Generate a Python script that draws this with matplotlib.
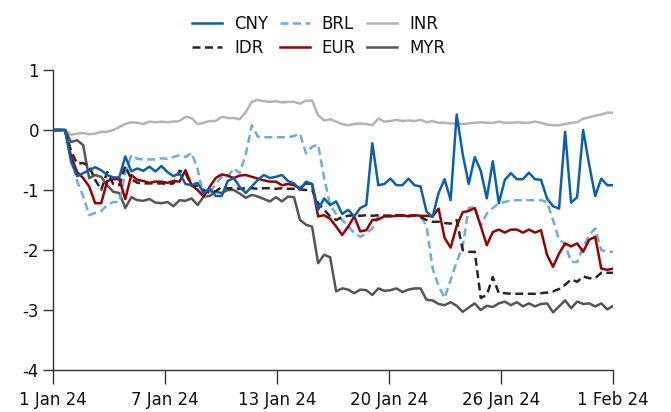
import numpy as np
import pandas as pd
import matplotlib
matplotlib.use("Agg")
import matplotlib.pyplot as plt

plt.rcParams['font.family'] = ['DejaVu Sans']
plt.rcParams['font.size'] = 12
plt.rcParams['axes.unicode_minus'] = False

# 8-hourly observations, 1 Jan 24 to 1 Feb 24
dates = pd.date_range('2024-01-01', '2024-02-01', freq='8h')
tick_labels = ['1 Jan 24', '7 Jan 24', '13 Jan 24', '20 Jan 24', '26 Jan 24', '1 Feb 24']

cny = [0, 0, 0, -0.53, -0.77, -0.72, -0.67, -0.62, -0.67, -0.75,
       -0.79, -0.79, -0.44, -0.69, -0.64, -0.68, -0.61, -0.69, -0.6, -0.7,
       -0.77, -0.72, -0.9, -0.92, -0.88, -1.05, -0.98, -1.1, -1.1, -0.85,
       -0.8, -0.95, -1.05, -0.94, -0.83, -0.75, -0.8, -0.78, -0.75, -0.85,
       -0.89, -1.0, -0.86, -0.9, -1.33, -1.14, -1.25, -1.19, -1.4, -1.33,
       -1.44, -1.3, -1.25, -0.22, -0.92, -0.9, -0.81, -0.92, -0.92, -0.81,
       -0.92, -0.94, -1.36, -1.45, -1.05, -0.82, -1.17, 0.26, -0.4, -0.9,
       -0.45, -0.68, -1.14, -0.52, -1.22, -0.83, -0.72, -0.82, -0.82, -0.71,
       -0.82, -0.83, -1.14, -1.27, -1.31, -0.03, -1.21, -1.12, 0.0, -0.58,
       -1.1, -0.81, -0.92, -0.92]
brl = [0, 0, 0, -0.45, -0.85, -1.1, -1.42, -1.38, -1.35, -1.25,
       -1.2, -1.2, -0.72, -0.42, -0.48, -0.49, -0.49, -0.49, -0.47, -0.48,
       -0.45, -0.42, -0.45, -0.38, -0.65, -1.11, -1.05, -0.9, -0.78, -0.78,
       -0.64, -0.72, -0.4, 0.08, -0.11, -0.12, -0.12, -0.12, -0.12, -0.12,
       -0.1, -0.06, -0.39, -0.28, -0.24, -0.8, -1.25, -1.4, -1.5, -1.6,
       -1.72, -1.78, -1.72, -1.64, -1.44, -1.42, -1.42, -1.42, -1.42, -1.42,
       -1.42, -1.44, -1.6, -2.3, -2.6, -2.8, -2.5, -2.2, -1.94, -1.3,
       -1.28, -1.6, -1.39, -1.3, -1.22, -1.2, -1.17, -1.17, -1.17, -1.17,
       -1.17, -1.17, -1.2, -1.5, -1.83, -1.9, -2.2, -2.2, -1.95, -1.75,
       -1.64, -2.0, -2.03, -2.03]
inr = [0, 0, 0, -0.08, -0.06, -0.05, -0.07, -0.06, -0.03, -0.03,
       0.0, 0.05, 0.1, 0.13, 0.12, 0.1, 0.14, 0.13, 0.14, 0.13,
       0.14, 0.15, 0.22, 0.2, 0.1, 0.12, 0.15, 0.15, 0.22, 0.2,
       0.2, 0.18, 0.3, 0.47, 0.5, 0.48, 0.47, 0.48, 0.46, 0.47,
       0.47, 0.44, 0.49, 0.49, 0.25, 0.16, 0.18, 0.14, 0.1, 0.08,
       0.1, 0.11, 0.1, 0.08, 0.19, 0.14, 0.15, 0.17, 0.15, 0.16,
       0.15, 0.17, 0.13, 0.15, 0.12, 0.12, 0.11, 0.11, 0.1, 0.11,
       0.12, 0.13, 0.12, 0.12, 0.14, 0.12, 0.12, 0.13, 0.12, 0.12,
       0.14, 0.12, 0.09, 0.08, 0.08, 0.1, 0.12, 0.13, 0.19, 0.21,
       0.24, 0.26, 0.29, 0.29]
idr = [0, 0, 0, -0.35, -0.56, -0.55, -0.6, -0.83, -1.0, -0.7,
       -0.9, -0.92, -0.6, -0.82, -0.88, -0.89, -0.89, -0.89, -0.89, -0.9,
       -0.89, -0.68, -0.72, -0.93, -0.93, -1.0, -1.05, -1.02, -0.95, -0.97,
       -0.97, -0.98, -0.97, -0.97, -0.98, -0.97, -0.97, -0.98, -0.97, -0.98,
       -0.98, -0.99, -1.0, -1.0, -1.22, -1.33, -1.44, -1.5, -1.45, -1.43,
       -1.42, -1.43, -1.42, -1.43, -1.42, -1.43, -1.43, -1.42, -1.43, -1.43,
       -1.43, -1.45, -1.5, -1.53, -1.53, -1.55, -1.56, -1.5, -2.0, -2.03,
       -2.03, -2.8, -2.75, -2.45, -2.72, -2.72, -2.73, -2.73, -2.73, -2.73,
       -2.73, -2.72, -2.71, -2.69, -2.65, -2.58, -2.49, -2.53, -2.44, -2.47,
       -2.47, -2.38, -2.38, -2.38]
eur = [0, 0, 0, -0.44, -0.7, -0.8, -0.94, -1.22, -1.22, -0.85,
       -0.82, -0.82, -1.15, -0.75, -0.83, -0.85, -0.88, -0.86, -0.86, -0.88,
       -0.85, -0.86, -0.67, -0.92, -1.0, -1.11, -0.95, -0.8, -0.74, -0.76,
       -0.8, -0.76, -0.75, -0.78, -0.81, -0.84, -0.86, -0.86, -0.92, -0.9,
       -0.92, -0.97, -0.89, -0.9, -1.44, -1.42, -1.48, -1.61, -1.75, -1.61,
       -1.44, -1.69, -1.67, -1.5, -1.49, -1.44, -1.44, -1.43, -1.42, -1.44,
       -1.42, -1.43, -1.43, -1.44, -1.31, -1.8, -1.96, -1.6, -1.37, -1.35,
       -1.3, -1.6, -1.92, -1.7, -1.66, -1.71, -1.66, -1.66, -1.71, -1.66,
       -1.71, -1.67, -2.08, -2.28, -2.06, -1.89, -1.94, -1.89, -2.03, -1.83,
       -1.78, -2.31, -2.33, -2.31]
myr = [0, 0, 0, -0.2, -0.17, -0.25, -0.8, -0.75, -0.78, -0.92,
       -1.03, -1.05, -1.3, -1.12, -1.17, -1.18, -1.15, -1.21, -1.22, -1.2,
       -1.27, -1.17, -1.18, -1.14, -1.25, -1.11, -1.1, -1.03, -1.05, -1.0,
       -1.0, -1.06, -1.13, -1.08, -1.11, -1.15, -1.19, -1.12, -1.19, -1.11,
       -1.12, -1.5, -1.58, -1.61, -2.22, -2.08, -2.12, -2.69, -2.64, -2.66,
       -2.72, -2.66, -2.67, -2.75, -2.64, -2.68, -2.67, -2.64, -2.7, -2.66,
       -2.64, -2.64, -2.83, -2.84, -2.9, -2.92, -2.87, -2.93, -3.03, -2.96,
       -2.89, -3.0, -2.93, -2.95, -2.89, -2.86, -2.92, -2.87, -2.94, -2.89,
       -2.94, -2.9, -2.89, -3.04, -2.94, -2.84, -2.97, -2.86, -2.9, -2.89,
       -2.94, -2.89, -2.99, -2.93]

fig = plt.figure(figsize=(6.71, 4.12), dpi=100)
ax = fig.add_axes([0.079, 0.102, 0.835, 0.728])

lw = 1.8
ax.plot(dates, inr, color='#b4b4b4', lw=lw, label='INR', zorder=2)
ax.plot(dates, myr, color='#555555', lw=lw, label='MYR', zorder=3)
ax.plot(dates, brl, color='#6aade0', lw=lw, ls=(0, (3.2, 1.8)), label='BRL', zorder=4)
ax.plot(dates, idr, color='#262626', lw=lw, ls=(0, (3.2, 1.8)), label='IDR', zorder=5)
ax.plot(dates, eur, color='#990000', lw=lw, label='EUR', zorder=6)
ax.plot(dates, cny, color='#0a60b0', lw=lw, label='CNY', zorder=7)

ax.set_xlim(dates[0], dates[-1])
ax.set_ylim(-4, 1)
ax.set_yticks([1, 0, -1, -2, -3, -4])
ax.set_xticks(pd.date_range(dates[0], dates[-1], periods=6))
ax.set_xticklabels(tick_labels)

for s in ['top', 'right']:
    ax.spines[s].set_visible(False)
for s in ['left', 'bottom']:
    ax.spines[s].set_color('#333333')
    ax.spines[s].set_linewidth(1.0)
ax.tick_params(axis='x', length=10, width=1.0, color='#333333', pad=5, labelsize=12,
               labelcolor='#111111')
ax.tick_params(axis='y', length=7, width=1.0, color='#333333', pad=3, labelsize=12,
               labelcolor='#111111')

h, l = ax.get_legend_handles_labels()
order = ['CNY', 'IDR', 'BRL', 'EUR', 'INR', 'MYR']
hh = [h[l.index(k)] for k in order]
fig.legend(hh, order, loc='upper center', bbox_to_anchor=(0.475, 1.0), ncol=3,
           frameon=False, handlelength=1.8, columnspacing=0.7, handletextpad=0.7,
           labelspacing=0.35, fontsize=12, labelcolor='#111111')

fig.savefig('out.png', dpi=100)
